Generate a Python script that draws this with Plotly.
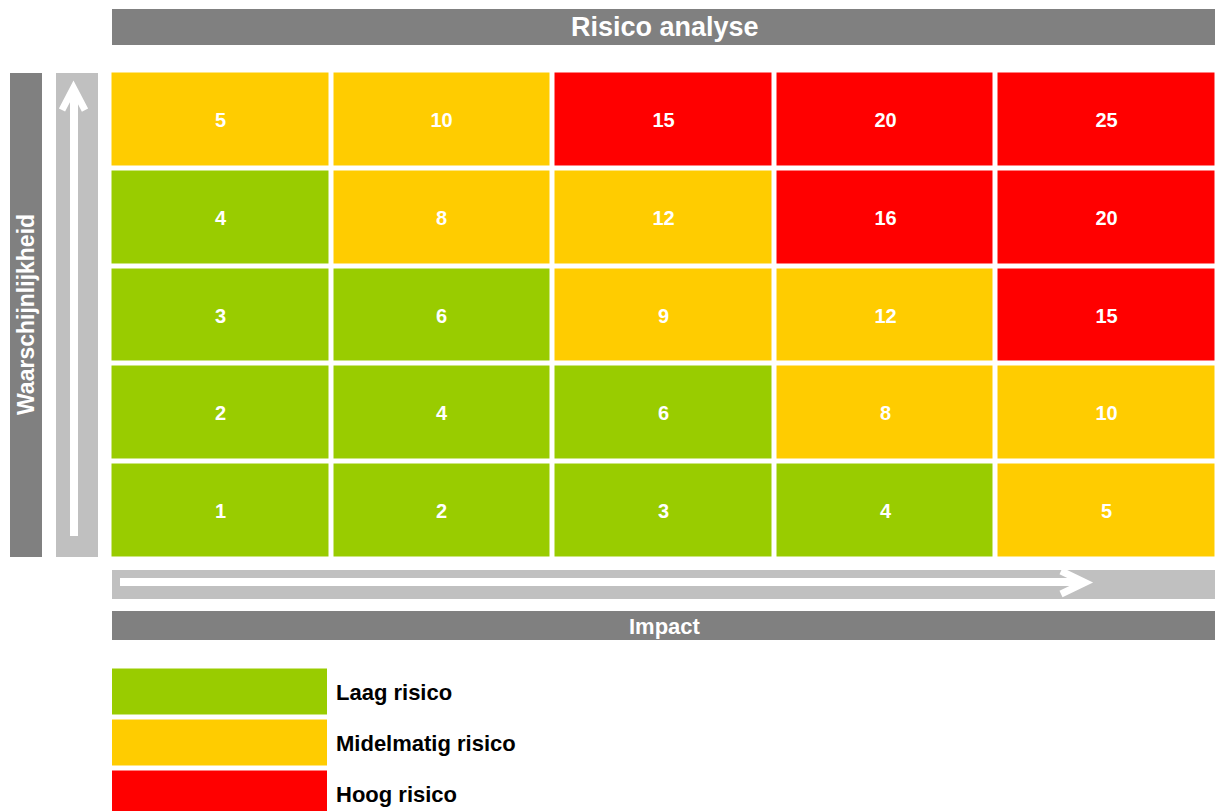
import plotly.graph_objects as go

# ---------------- data ----------------
impact = [1, 2, 3, 4, 5]                  # x categories (Impact)
likelihood = [1, 2, 3, 4, 5]              # y categories (Waarschijnlijkheid)
scores = [                                 # rows = likelihood 1..5, cols = impact 1..5
    [1, 2, 3, 4, 5],
    [2, 4, 6, 8, 10],
    [3, 6, 9, 12, 15],
    [4, 8, 12, 16, 20],
    [5, 10, 15, 20, 25],
]
risk_class = [                             # L = Laag, M = Midelmatig, H = Hoog
    ["L", "L", "L", "L", "M"],
    ["L", "L", "L", "M", "M"],
    ["L", "L", "M", "M", "H"],
    ["L", "M", "M", "H", "H"],
    ["M", "M", "H", "H", "H"],
]
risk_codes = ["L", "M", "H"]
risk_labels = ["Laag risico", "Midelmatig risico", "Hoog risico"]
risk_colors = ["#99CC00", "#FFCC00", "#FF0000"]

title_text = "Risico analyse"
x_title = "Impact"
y_title = "Waarschijnlijkheid"

# ---------------- layout helpers ----------------
W, H = 1215, 811
DARK = "#808080"
LIGHT = "#C0C0C0"
FONT = "Liberation Sans, Arial, sans-serif"
GAP = 5


def px(x):
    return x / W


def py(y):
    return 1 - y / H


z = [[risk_codes.index(c) for c in row] for row in risk_class]
colorscale = [
    [0.0, risk_colors[0]], [0.25, risk_colors[0]],
    [0.25, risk_colors[1]], [0.75, risk_colors[1]],
    [0.75, risk_colors[2]], [1.0, risk_colors[2]],
]

fig = go.Figure()

# main risk matrix
fig.add_trace(go.Heatmap(
    x=impact, y=likelihood, z=z, text=scores,
    texttemplate="%{text}",
    textfont=dict(family=FONT, size=20, color="white", weight="bold"),
    colorscale=colorscale, zmin=0, zmax=2, showscale=False,
    xgap=GAP, ygap=GAP, hoverinfo="skip",
    xaxis="x", yaxis="y",
))

# legend as a one-column heatmap
leg_y = list(reversed(risk_labels))
leg_z = [[risk_labels.index(l)] for l in leg_y]
fig.add_trace(go.Heatmap(
    x=[0], y=leg_y, z=leg_z,
    colorscale=colorscale, zmin=0, zmax=2, showscale=False,
    ygap=GAP, hoverinfo="skip",
    xaxis="x2", yaxis="y2",
))

# main axes geometry
left_px, right_px = 112 - GAP / 2, W
top_px, bot_px = 73 - GAP / 2, 557 + GAP / 2
unit_x = (W + GAP / 2 - left_px) / len(impact)
x_hi = 0.5 + (right_px - left_px) / unit_x

# legend axes geometry
leg_top = 669 - GAP / 2
leg_pitch = 51
leg_span = (H - leg_top) / leg_pitch

shapes = []


def rect(x0, y0, x1, y1, color):
    shapes.append(dict(type="rect", xref="paper", yref="paper",
                       x0=px(x0), x1=px(x1), y0=py(y1), y1=py(y0),
                       fillcolor=color, line=dict(width=0), layer="below"))


def path(points, width):
    d = "M " + " L ".join(f"{px(a):.5f},{py(b):.5f}" for a, b in points)
    shapes.append(dict(type="path", xref="paper", yref="paper", path=d,
                       line=dict(color="white", width=width), layer="above"))


rect(112, 9, W, 45, DARK)             # title bar
rect(10, 73, 42, 557, DARK)           # y title bar
rect(56, 73, 98, 557, LIGHT)          # up-arrow bar
rect(112, 570, W, 599, LIGHT)         # right-arrow bar
rect(112, 611, W, 640, DARK)          # x title bar

path([(74, 536), (74, 90)], 8)
path([(62, 110), (73.5, 88), (85, 110)], 7)
path([(120, 582), (1084, 582)], 8)
path([(1061, 571), (1085, 582.5), (1061, 594)], 7)

annotations = [
    dict(text=title_text, x=px(665), y=py(27), xref="paper", yref="paper",
         showarrow=False, font=dict(family=FONT, size=27, color="white", weight="bold"),
         xanchor="center", yanchor="middle"),
    dict(text=x_title, x=px(665), y=py(626), xref="paper", yref="paper",
         showarrow=False, font=dict(family=FONT, size=22, color="white", weight="bold"),
         xanchor="center", yanchor="middle"),
    dict(text=y_title, x=px(26), y=py(315), xref="paper", yref="paper",
         showarrow=False, textangle=-90,
         font=dict(family=FONT, size=23, color="white", weight="bold"),
         xanchor="center", yanchor="middle"),
]

fig.update_layout(
    width=W, height=H,
    margin=dict(l=0, r=0, t=0, b=0),
    paper_bgcolor="white", plot_bgcolor="rgba(0,0,0,0)",
    showlegend=False,
    shapes=shapes, annotations=annotations,
    xaxis=dict(domain=[px(left_px), px(right_px)], range=[0.5, x_hi],
               visible=False, fixedrange=True),
    yaxis=dict(domain=[py(bot_px), py(top_px)], range=[0.5, 5.5],
               visible=False, fixedrange=True),
    xaxis2=dict(domain=[px(112), px(327)], range=[-0.5, 0.5],
                visible=False, anchor="y2", fixedrange=True),
    yaxis2=dict(domain=[0, py(leg_top)], anchor="x2", side="right",
                type="category",
                range=[2.5 - leg_span, 2.5], showgrid=False, zeroline=False,
                showline=False, ticks="", ticklabelstandoff=8,
                tickfont=dict(family=FONT, size=22, color="black", weight="bold"),
                fixedrange=True),
)

page_css = ("document.documentElement.style.margin='0';"
            "document.documentElement.style.overflow='hidden';"
            "document.body.style.margin='0';"
            "document.body.style.overflow='hidden';")

fig.write_html("out.html", post_script=page_css,
               config={"displayModeBar": False, "staticPlot": True})
